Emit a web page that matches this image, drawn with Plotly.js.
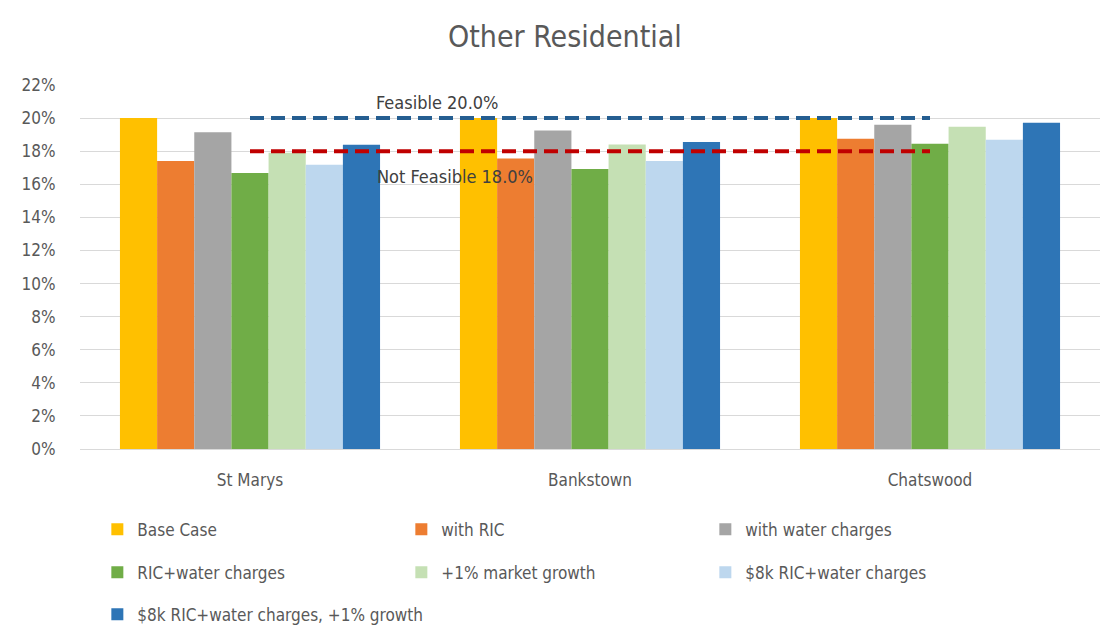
<!DOCTYPE html>
<html>
<head>
<meta charset="utf-8">
<script src="https://cdn.plot.ly/plotly-3.0.1.min.js"></script>
<style>
  html, body { margin: 0; padding: 0; background: #fff; }
  #chart { width: 1112px; height: 644px; }
  #edge { position: absolute; left: 5px; top: 6px; width: 0; height: 638px; border-left: 1px solid #d9d9d9; }
</style>
</head>
<body>
<div id="edge"></div>
<div id="chart"></div>
<script>
const categories = ["St Marys", "Bankstown", "Chatswood"];
const seriesNames = [
  "Base Case", "with RIC", "with water charges",
  "RIC+water charges", "+1% market growth", "$8k RIC+water charges",
  "$8k RIC+water charges, +1% growth"
];
const baseCase      = [0.2000, 0.2000, 0.2000];
const withRIC       = [0.1740, 0.1756, 0.1875];
const withWater     = [0.1915, 0.1925, 0.1960];
const ricWater      = [0.1668, 0.1692, 0.1845];
const marketGrowth  = [0.1790, 0.1841, 0.1947];
const ric8kWater    = [0.1718, 0.1740, 0.1869];
const ric8kGrowth   = [0.1839, 0.1855, 0.1972];
const feasibleLevel = 0.20;
const notFeasibleLevel = 0.18;
const feasibleLabel = "Feasible 20.0%";
const notFeasibleLabel = "Not Feasible 18.0%";
const yTickVals = [0,0.02,0.04,0.06,0.08,0.10,0.12,0.14,0.16,0.18,0.20,0.22];
const yTickText = ["0%","2%","4%","6%","8%","10%","12%","14%","16%","18%","20%","22%"];

const seriesValues = [baseCase, withRIC, withWater, ricWater, marketGrowth, ric8kWater, ric8kGrowth];
const colors = ["#FFC000", "#ED7D31", "#A5A5A5", "#70AD47", "#C5E0B4", "#BDD7EE", "#2E75B6"];
const legendIds = ["legend","legend","legend","legend2","legend2","legend2","legend3"];

const FONT = '"Liberation Sans Narrow", "DejaVu Sans Condensed", "Arial Narrow", sans-serif';
const TXT = "#595959";

const traces = seriesValues.map((vals, i) => ({
  type: "bar",
  name: seriesNames[i],
  x: categories,
  y: vals,
  marker: { color: colors[i], line: { width: 0 } },
  legend: legendIds[i],
  hoverinfo: "name+y"
}));

traces.push({
  type: "scatter", mode: "lines",
  x: [categories[0], categories[2]],
  y: [feasibleLevel, feasibleLevel],
  line: { color: "#255E91", width: 4, dash: "14px,7px" },
  showlegend: false, hoverinfo: "skip"
});
traces.push({
  type: "scatter", mode: "lines",
  x: [categories[0], categories[2]],
  y: [notFeasibleLevel, notFeasibleLevel],
  line: { color: "#C00000", width: 4, dash: "14px,7px" },
  showlegend: false, hoverinfo: "skip"
});

const legendBase = {
  orientation: "h",
  xanchor: "left", yanchor: "middle",
  x: 0.017,
  font: { family: FONT, size: 17, color: TXT },
  entrywidth: 259, entrywidthmode: "pixels",
  itemwidth: 30,
  bgcolor: "rgba(0,0,0,0)",
  traceorder: "normal"
};

const layout = {
  width: 1112, height: 644,
  margin: { l: 80, r: 12, t: 85, b: 195 },
  paper_bgcolor: "#ffffff",
  plot_bgcolor: "#ffffff",
  font: { family: FONT, color: TXT, size: 17 },
  title: {
    text: "Other Residential",
    font: { family: FONT, size: 30, color: TXT },
    x: 0.508, xanchor: "center",
    y: 0.943, yanchor: "middle"
  },
  barmode: "group",
  bargap: 0.235,
  bargroupgap: 0,
  xaxis: {
    type: "category",
    showgrid: false,
    showline: true, linecolor: "#d9d9d9", linewidth: 1,
    ticks: "outside", tickcolor: "rgba(0,0,0,0)", ticklen: 16,
    tickfont: { family: FONT, size: 17, color: TXT },
    fixedrange: true
  },
  yaxis: {
    range: [0, 0.22],
    tickvals: yTickVals,
    ticktext: yTickText,
    showgrid: true, gridcolor: "#d9d9d9", gridwidth: 1,
    zeroline: false,
    showline: false,
    ticks: "outside", tickcolor: "rgba(0,0,0,0)", ticklen: 20,
    tickfont: { family: FONT, size: 17, color: TXT },
    fixedrange: true
  },
  legend:  Object.assign({}, legendBase, { y: -0.222 }),
  legend2: Object.assign({}, legendBase, { y: -0.340 }),
  legend3: Object.assign({}, legendBase, { y: -0.455, entrywidth: 0 }),
  annotations: [
    {
      text: feasibleLabel, xref: "paper", yref: "y",
      x: 0.35, y: 0.2092, xanchor: "center", yanchor: "middle",
      showarrow: false, font: { family: FONT, size: 18, color: "#404040" }
    },
    {
      text: notFeasibleLabel, xref: "paper", yref: "y",
      x: 0.368, y: 0.1645, xanchor: "center", yanchor: "middle",
      showarrow: false, font: { family: FONT, size: 18, color: "#404040" }
    }
  ],
  showlegend: true
};

Plotly.newPlot("chart", traces, layout, { displayModeBar: false, staticPlot: true });
</script>
</body>
</html>
